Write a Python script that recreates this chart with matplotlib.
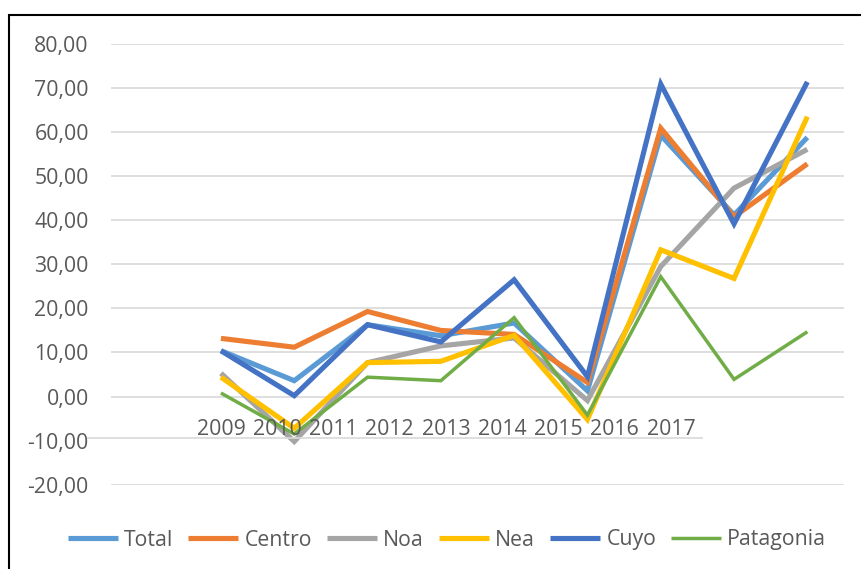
import numpy as np
import matplotlib
matplotlib.use("Agg")
import matplotlib.pyplot as plt
from matplotlib.lines import Line2D
from matplotlib.patches import Rectangle

years = ["2009", "2010", "2011", "2012", "2013", "2014", "2015", "2016", "2017"]
total = [10.4, 3.6, 16.3, 13.8, 16.7, 1.3, 59.3, 41.2, 58.8]
centro = [13.2, 11.2, 19.3, 15.0, 14.1, 3.2, 60.9, 40.8, 52.8]
noa = [5.3, -10.2, 7.7, 11.5, 13.3, -0.9, 29.5, 47.3, 56.1]
nea = [4.4, -7.2, 7.7, 8.0, 13.9, -5.2, 33.3, 26.8, 63.5]
cuyo = [10.4, 0.2, 16.3, 12.4, 26.5, 4.5, 70.9, 39.2, 71.4]
patagonia = [0.8, -8.5, 4.4, 3.6, 17.9, -4.2, 27.2, 3.9, 14.7]

series = [
    ("Total", total, "#5B9BD5", 3.7),
    ("Centro", centro, "#ED7D31", 3.7),
    ("Noa", noa, "#A5A5A5", 3.7),
    ("Nea", nea, "#FFC000", 3.7),
    ("Cuyo", cuyo, "#4472C4", 3.7),
    ("Patagonia", patagonia, "#70AD47", 2.5),
]

plt.rcParams['font.family'] = ['Open Sans', 'DejaVu Sans']
W, H = 862, 569
fig = plt.figure(figsize=(W / 100, H / 100), dpi=100)
ax = fig.add_axes([111 / W, 1 - 484.7 / H, (844 - 111) / W, (484.7 - 44) / H])

# first category slot is empty in the original sheet
x = np.arange(len(years)) + 1
for name, vals, col, lw in series:
    ax.plot(x, vals, color=col, lw=lw, label=name, solid_joinstyle="miter",
            solid_capstyle="butt", zorder=3)

ax.set_xlim(-0.5, 9.5)
ax.set_ylim(-20, 80)
yt = np.arange(-20, 81, 10)
ax.set_yticks(yt)
ax.set_yticklabels([f"{v:.2f}".replace(".", ",") for v in yt])
ax.tick_params(axis="y", length=0, pad=16, labelsize=15.3, labelcolor="#595959")
ax.set_xticks([])
for v in yt:
    if v == -10:
        continue
    ax.axhline(v, color="#D9D9D9", lw=1.2, zorder=1)
for s in ax.spines.values():
    s.set_visible(False)

# category labels sit squeezed near the zero line
step = 56.25 / 73.3
for i, yr in enumerate(years):
    ax.text(1 + i * step, -7.4, yr, ha="center", va="center", fontsize=15.3,
            color="#595959", zorder=4)
fig.add_artist(Line2D([88, 702], [H - 437.5, H - 437.5], transform=None,
                      color="#D9D9D9", lw=1.2))

fig.legend(loc="center", bbox_to_anchor=(447 / W, 1 - 540 / H), ncol=6,
           frameon=False, fontsize=15.3, handlelength=2.35, handletextpad=0.3,
           columnspacing=0.7, labelcolor="#595959")

fig.add_artist(Rectangle((9 / W, -0.1), 1.2, 1.1 - 15 / H, transform=fig.transFigure,
                         fill=False, edgecolor="black", lw=1.5))

fig.savefig("out.png", dpi=100)
